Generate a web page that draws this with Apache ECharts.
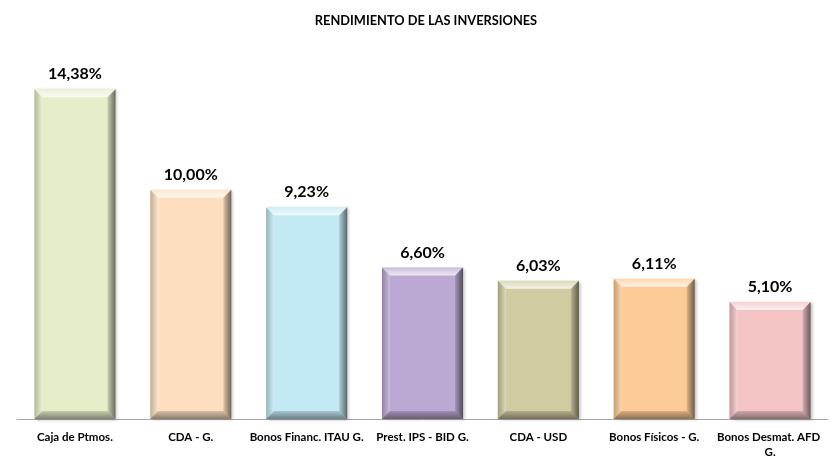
<!DOCTYPE html>
<html>
<head>
<meta charset="utf-8">
<script src="https://cdn.jsdelivr.net/npm/echarts@6/dist/echarts.min.js"></script>
<style>
  html, body { margin: 0; padding: 0; background: #fff; }
  #chart { width: 837px; height: 467px; }
</style>
</head>
<body>
<div id="chart"></div>
<script>
// datos del gráfico
const categories = ['Caja de Ptmos.', 'CDA - G.', 'Bonos Financ. ITAU G.', 'Prest. IPS - BID G.', 'CDA - USD', 'Bonos Físicos - G.', 'Bonos Desmat. AFD G.'];
const rendimiento = [14.38, 10.00, 9.23, 6.60, 6.03, 6.11, 5.10];
const barColors = ['#E4EFCA', '#FDDFC0', '#C3E9F4', '#BBA8D3', '#D1CBA2', '#FDCB98', '#F4C4C5'];

const FONT = 'Lato, "Liberation Sans", sans-serif';
const BEVEL = 8;

const myChart = echarts.init(document.getElementById('chart'));

// bisel 3D encima de cada barra
const renderBevel = (params, api) => {
  const idx = api.value(0);
  const top = api.coord([idx, api.value(1)]);
  const base = api.coord([idx, 0]);
  const w = api.size([1, 0])[0] * 0.7;
  const x0 = top[0] - w / 2, x1 = top[0] + w / 2;
  const y0 = top[1], y1 = base[1];
  const b = Math.min(BEVEL, (y1 - y0) / 2);
  const grad = (x, y, x2, y2, c0, c1) => new echarts.graphic.LinearGradient(x, y, x2, y2, [
    { offset: 0, color: c0 }, { offset: 1, color: c1 }
  ]);
  return {
    type: 'group',
    children: [
      { // arriba
        type: 'polygon',
        shape: { points: [[x0, y0], [x1, y0], [x1 - b, y0 + b], [x0 + b, y0 + b]] },
        style: { fill: grad(0, 0, 0, 1, 'rgba(255,255,255,0.25)', 'rgba(255,255,255,0.75)') }
      },
      { // izquierda
        type: 'polygon',
        shape: { points: [[x0, y0], [x0 + b, y0 + b], [x0 + b, y1 - b], [x0, y1]] },
        style: { fill: grad(0, 0, 1, 0, 'rgba(0,0,0,0.22)', 'rgba(255,255,255,0.25)') }
      },
      { // derecha
        type: 'polygon',
        shape: { points: [[x1, y0], [x1, y1], [x1 - b, y1 - b], [x1 - b, y0 + b]] },
        style: { fill: grad(0, 0, 1, 0, 'rgba(0,0,0,0.12)', 'rgba(0,0,0,0.55)') }
      },
      { // abajo
        type: 'polygon',
        shape: { points: [[x0, y1], [x0 + b, y1 - b], [x1 - b, y1 - b], [x1, y1]] },
        style: { fill: grad(0, 0, 0, 1, 'rgba(0,0,0,0.15)', 'rgba(0,0,0,0.45)') }
      }
    ]
  };
};

const option = {
  backgroundColor: '#fff',
  animation: false,
  title: {
    text: 'RENDIMIENTO DE LAS INVERSIONES',
    left: 421,
    textAlign: 'center',
    top: 9,
    textStyle: { fontFamily: FONT, fontSize: 12.8, fontWeight: 'bold', color: '#000' }
  },
  grid: { left: 17, right: 9, top: 52, bottom: 48 },
  xAxis: {
    type: 'category',
    data: categories,
    axisLine: { lineStyle: { color: '#a6a6a6', width: 1 } },
    axisTick: { show: false },
    axisLabel: {
      interval: 0,
      margin: 11,
      width: 116,
      overflow: 'break',
      lineHeight: 15,
      fontFamily: FONT,
      fontSize: 11.5,
      fontWeight: 'bold',
      color: '#000'
    }
  },
  yAxis: {
    type: 'value',
    min: 0,
    max: 16,
    show: false,
    splitLine: { show: false }
  },
  series: [
    {
      type: 'bar',
      barWidth: '70%',
      data: rendimiento.map((v, i) => ({ value: v, itemStyle: { color: barColors[i] } })),
      itemStyle: {
        shadowColor: 'rgba(0,0,0,0.25)',
        shadowBlur: 3,
        shadowOffsetX: 2,
        shadowOffsetY: 1
      },
      label: {
        show: true,
        position: 'top',
        distance: 7,
        fontFamily: FONT,
        fontSize: 16,
        fontWeight: 'bold',
        color: '#000',
        formatter: (p) => p.value.toFixed(2).replace('.', ',') + '%'
      }
    },
    {
      type: 'custom',
      silent: true,
      renderItem: renderBevel,
      data: rendimiento.map((v, i) => [i, v]),
      encode: { x: 0, y: 1 },
      z: 3
    }
  ]
};

myChart.setOption(option);
</script>
</body>
</html>
